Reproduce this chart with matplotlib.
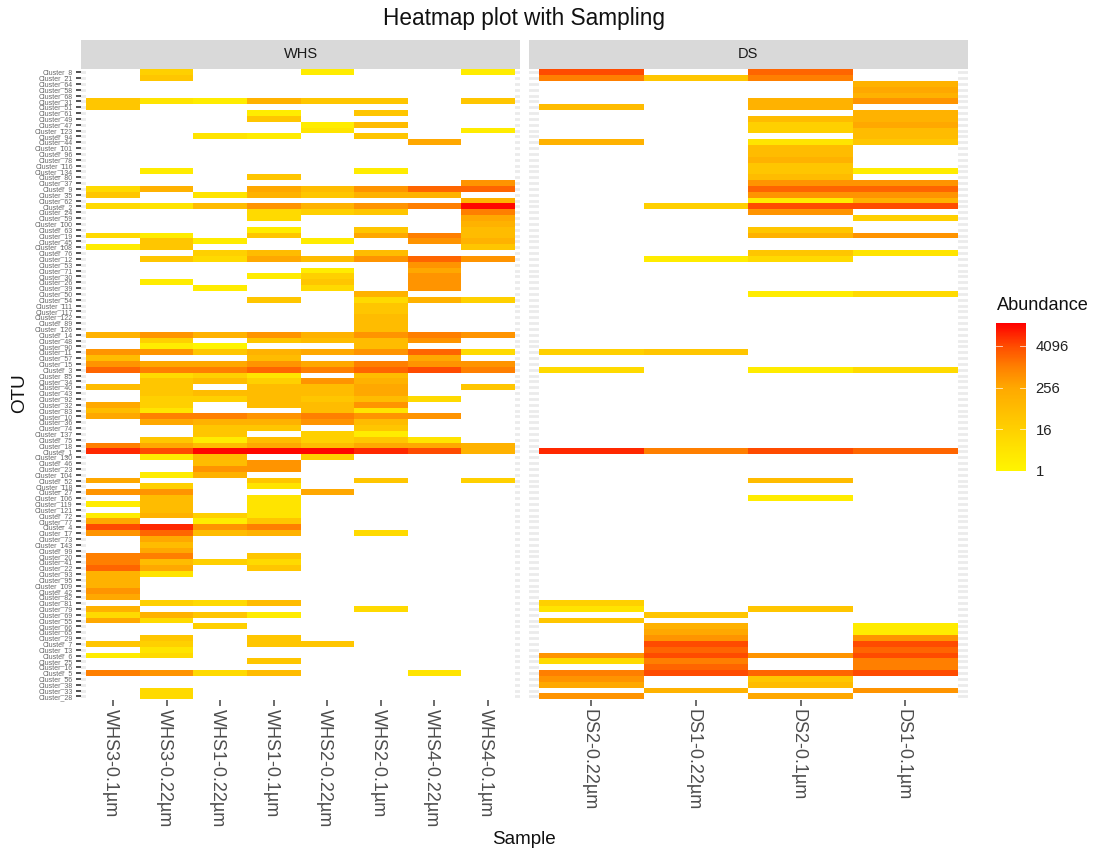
import numpy as np
from matplotlib import pyplot as plt
from matplotlib.colors import LinearSegmentedColormap, Normalize
from matplotlib.cm import ScalarMappable
from matplotlib.transforms import ScaledTranslation

plt.rcParams['font.family'] = ['Liberation Sans', 'DejaVu Sans']

otu = ['8', '21', '64', '58', '68', '31', '51', '61', '49', '47', '123', '94',
       '44', '101', '96', '78', '116', '134', '80', '37', '9', '35', '62', '2',
       '24', '59', '100', '63', '19', '45', '108', '76', '12', '53', '71', '30',
       '26', '39', '50', '54', '111', '117', '122', '89', '126', '14', '48', '90',
       '11', '57', '15', '3', '85', '34', '40', '43', '92', '32', '83', '10',
       '36', '74', '137', '75', '18', '1', '130', '46', '23', '104', '52', '118',
       '27', '106', '119', '121', '72', '77', '4', '17', '73', '143', '99', '20',
       '41', '22', '93', '95', '109', '42', '82', '81', '79', '69', '55', '66',
       '65', '29', '7', '13', '6', '25', '16', '5', '56', '38', '33', '28']

# log2(abundance) by row number, counted from the top
whs3_01 = {6: 5, 7: 5, 21: 3, 22: 5, 24: 3, 29: 3, 31: 1, 46: 7, 49: 9, 50: 6, 51: 9, 52: 11,
           55: 6, 58: 8, 59: 6, 60: 8, 65: 10, 66: 13, 71: 8, 73: 9, 75: 1, 77: 1, 78: 8, 79: 12,
           80: 9, 84: 10, 85: 10, 86: 11, 87: 7, 88: 7, 89: 7, 90: 9, 91: 8, 93: 7, 94: 3, 95: 8,
           99: 5, 101: 1, 104: 10}
whs3_022 = {1: 4, 2: 5, 6: 2, 18: 1, 21: 7, 24: 2, 29: 1, 30: 5, 31: 5, 33: 5, 37: 1, 46: 9,
            47: 4, 48: 1, 49: 9, 51: 8, 52: 10, 53: 3, 54: 5, 55: 5, 56: 5, 57: 4, 58: 4, 59: 2,
            60: 10, 61: 8, 64: 5, 65: 8, 66: 12, 67: 1, 70: 1, 72: 4, 73: 9, 74: 6, 75: 6, 76: 6,
            77: 7, 79: 13, 80: 11, 81: 8, 82: 6, 83: 8, 84: 10, 85: 6, 86: 8, 87: 2, 92: 4, 94: 7,
            95: 3, 98: 5, 99: 4, 100: 2, 101: 3, 104: 9, 107: 3, 108: 3}
whs1_022 = {6: 1, 12: 2, 22: 2, 24: 6, 30: 1, 32: 4, 33: 3, 38: 1, 46: 7, 48: 0, 49: 5, 51: 8,
            52: 10, 53: 4, 54: 6, 56: 6, 57: 4, 60: 10, 61: 7, 62: 5, 63: 5, 64: 1, 65: 6, 66: 14,
            67: 6, 68: 6, 69: 9, 70: 7, 77: 4, 78: 1, 79: 9, 80: 6, 85: 4, 92: 3, 94: 5, 96: 4,
            104: 3}
whs1_01 = {6: 7, 8: 1, 9: 5, 12: 1, 19: 5, 21: 8, 22: 7, 24: 9, 25: 3, 26: 3, 28: 1, 29: 5,
           32: 6, 33: 8, 36: 1, 40: 5, 46: 9, 47: 5, 49: 7, 50: 6, 51: 9, 52: 11, 53: 2, 54: 4,
           55: 6, 56: 6, 57: 6, 58: 6, 60: 9, 61: 7, 62: 5, 64: 6, 65: 8, 66: 14, 68: 9, 69: 9,
           71: 5, 72: 2, 74: 2, 75: 2, 76: 2, 77: 2, 78: 5, 79: 10, 80: 7, 84: 5, 85: 3, 86: 5,
           92: 6, 94: 1, 98: 5, 99: 5, 102: 5, 104: 6}
whs2_022 = {1: 1, 6: 5, 10: 1, 11: 2, 21: 6, 22: 5, 24: 7, 25: 4, 30: 1, 33: 6, 35: 1, 36: 4,
            37: 5, 38: 3, 46: 7, 47: 6, 49: 8, 51: 8, 52: 10, 54: 9, 55: 6, 56: 6, 57: 5, 58: 6,
            59: 6, 60: 10, 61: 9, 63: 4, 64: 4, 65: 6, 66: 14, 67: 4, 73: 8, 99: 5}
whs2_01 = {6: 5, 8: 5, 10: 6, 12: 5, 18: 1, 21: 9, 22: 7, 24: 9, 25: 5, 28: 5, 29: 8, 32: 6,
           33: 9, 39: 7, 40: 3, 41: 5, 42: 5, 43: 6, 44: 6, 45: 6, 46: 9, 47: 6, 48: 6, 49: 9,
           51: 10, 52: 11, 53: 6, 54: 7, 55: 8, 56: 8, 57: 6, 58: 9, 59: 2, 60: 9, 61: 6, 62: 5,
           63: 1, 64: 5, 65: 8, 66: 13, 71: 5, 80: 3, 93: 3}
whs4_022 = {13: 8, 21: 11, 22: 7, 24: 10, 29: 10, 30: 9, 33: 11, 34: 9, 35: 8, 36: 9, 37: 9,
            38: 9, 40: 7, 46: 10, 47: 9, 49: 11, 50: 8, 51: 9, 52: 12, 57: 3, 60: 9, 64: 2, 65: 8,
            66: 12, 104: 2}
whs4_01 = {1: 1, 6: 5, 11: 1, 20: 9, 21: 11, 23: 7, 24: 14, 25: 10, 26: 8, 27: 7, 28: 6, 29: 6,
           30: 7, 31: 5, 33: 9, 40: 4, 46: 9, 49: 3, 51: 9, 52: 10, 55: 5, 65: 7, 66: 7, 71: 4}
ds2_022 = {1: 12, 2: 10, 7: 6, 13: 7, 49: 4, 52: 3, 66: 13, 92: 4, 93: 2, 95: 5, 101: 9, 102: 3,
           104: 10, 105: 9, 106: 8, 108: 9}
ds1_022 = {2: 5, 24: 4, 33: 1, 49: 5, 66: 10, 94: 5, 96: 7, 97: 8, 98: 9, 99: 12, 100: 11,
           101: 12, 102: 10, 103: 11, 104: 12, 107: 7}
ds2_01 = {1: 11, 2: 10, 6: 7, 7: 7, 9: 6, 10: 4, 11: 4, 13: 2, 14: 6, 15: 6, 16: 7, 17: 5, 18: 5,
          19: 6, 20: 9, 21: 11, 22: 9, 23: 1, 24: 12, 25: 9, 28: 5, 29: 7, 32: 5, 33: 3, 39: 1,
          52: 1, 66: 12, 71: 6, 74: 1, 93: 5, 101: 9, 104: 11, 105: 5, 106: 6, 108: 8}
ds1_01 = {3: 7, 4: 8, 5: 7, 6: 9, 8: 7, 9: 7, 10: 8, 11: 6, 12: 6, 13: 5, 18: 1, 20: 9, 21: 11,
          22: 9, 23: 7, 24: 12, 26: 4, 29: 9, 32: 2, 39: 3, 52: 3, 66: 11, 96: 1, 97: 1, 98: 9,
          99: 12, 100: 11, 101: 12, 102: 10, 103: 10, 104: 12, 107: 9}

whs_samples = ['WHS3-0.1µm', 'WHS3-0.22µm', 'WHS1-0.22µm', 'WHS1-0.1µm',
               'WHS2-0.22µm', 'WHS2-0.1µm', 'WHS4-0.22µm', 'WHS4-0.1µm']
ds_samples = ['DS2-0.22µm', 'DS1-0.22µm', 'DS2-0.1µm', 'DS1-0.1µm']
whs_cols = [whs3_01, whs3_022, whs1_022, whs1_01, whs2_022, whs2_01, whs4_022, whs4_01]
ds_cols = [ds2_022, ds1_022, ds2_01, ds1_01]

legend_ticks = [0, 4, 8, 12]
legend_labels = ['1', '16', '256', '4096']

W, H = 1093, 850
vmax = 14.2
colors = [(0, '#FFF500'), (2, '#FFE400'), (4, '#FFD000'), (6, '#FFBC00'), (8, '#FFA800'),
          (10, '#FF8000'), (12, '#FF4C00'), (14.2, '#FF0000')]
cmap = LinearSegmentedColormap.from_list('abund', [(v / vmax, c) for v, c in colors])
cmap.set_bad('white')
norm = Normalize(0, vmax)


def to_matrix(cols):
    m = np.full((len(otu), len(cols)), np.nan)
    for j, col in enumerate(cols):
        for row, val in col.items():
            m[row - 1, j] = val
    return np.ma.masked_invalid(m)


def px_axes(x0, y0, x1, y1):
    return fig.add_axes([x0 / W, 1 - y1 / H, (x1 - x0) / W, (y1 - y0) / H])


fig = plt.figure(figsize=(W / 100, H / 100), dpi=100)

panels = [(81, 520, whs_cols, whs_samples, 'WHS'), (528.5, 968, ds_cols, ds_samples, 'DS')]
for n, (x0, x1, cols, samples, name) in enumerate(panels):
    ax = px_axes(x0, 68.7, x1, 699.9)
    ax.pcolormesh(np.arange(len(cols) + 1) - 0.5, np.arange(len(otu) + 1) - 0.5, to_matrix(cols),
                  cmap=cmap, norm=norm, edgecolors='none', zorder=2)
    ax.set_xlim(-0.6, len(cols) - 0.4)
    ax.set_ylim(len(otu) - 0.4, -0.6)
    ax.set_yticks(range(len(otu)))
    ax.set_xticks(range(len(cols)))
    ax.set_xticklabels(samples, rotation=-90, fontsize=13, color='#4D4D4D')
    ax.tick_params(axis='x', length=4.5, width=1.1, color='#444444', pad=2)
    # rotated labels sit a bit right of their ticks otherwise
    shift = ScaledTranslation(-2.5 / 100, 0, fig.dpi_scale_trans)
    for lab in ax.get_xticklabels():
        lab.set_transform(lab.get_transform() + shift)
    if n == 0:
        ax.set_yticklabels(['Cluster_' + o for o in otu], fontsize=5, color='#666666')
        ax.tick_params(axis='y', length=3.6, width=1.2, color='#333333', pad=2.4)
    else:
        ax.tick_params(axis='y', left=False, labelleft=False)
    ax.grid(axis='y', color='#EBEBEB', lw=2.0, zorder=1)
    ax.set_axisbelow(True)
    for s in ax.spines.values():
        s.set_visible(False)

    strip = px_axes(x0, 40, x1, 68.5)
    strip.set_facecolor('#D9D9D9')
    strip.set_xticks([])
    strip.set_yticks([])
    for s in strip.spines.values():
        s.set_visible(False)
    strip.text(0.5, 0.5, name, ha='center', va='center', fontsize=10.5, color='#1A1A1A',
               transform=strip.transAxes)

fig.text(524 / W, 1 - 18 / H, 'Heatmap plot with Sampling', ha='center', va='center', fontsize=16.3, color='#111111')
fig.text(524 / W, 1 - 840 / H, 'Sample', ha='center', va='center', fontsize=13.6, color='#111111')
fig.text(20 / W, 1 - 393 / H, 'OTU', ha='center', va='center', rotation=90, fontsize=13.6, color='#111111')

# legend
cax = px_axes(996, 323, 1026, 471)
cb = fig.colorbar(ScalarMappable(norm=norm, cmap=cmap), cax=cax)
cb.outline.set_visible(False)
cb.set_ticks(legend_ticks)
cb.set_ticklabels(legend_labels)
cb.ax.tick_params(length=0, labelsize=10.7, pad=7, labelcolor='#222222')
for t in legend_ticks[1:]:
    cb.ax.plot([0, 0.2], [t, t], color='white', lw=0.6, alpha=0.8, transform=cb.ax.get_yaxis_transform())
    cb.ax.plot([0.8, 1], [t, t], color='white', lw=0.6, alpha=0.8, transform=cb.ax.get_yaxis_transform())
fig.text(997 / W, 1 - 306 / H, 'Abundance', ha='left', va='center', fontsize=13.1, color='#111111')

plt.savefig('out.png', dpi=100)
